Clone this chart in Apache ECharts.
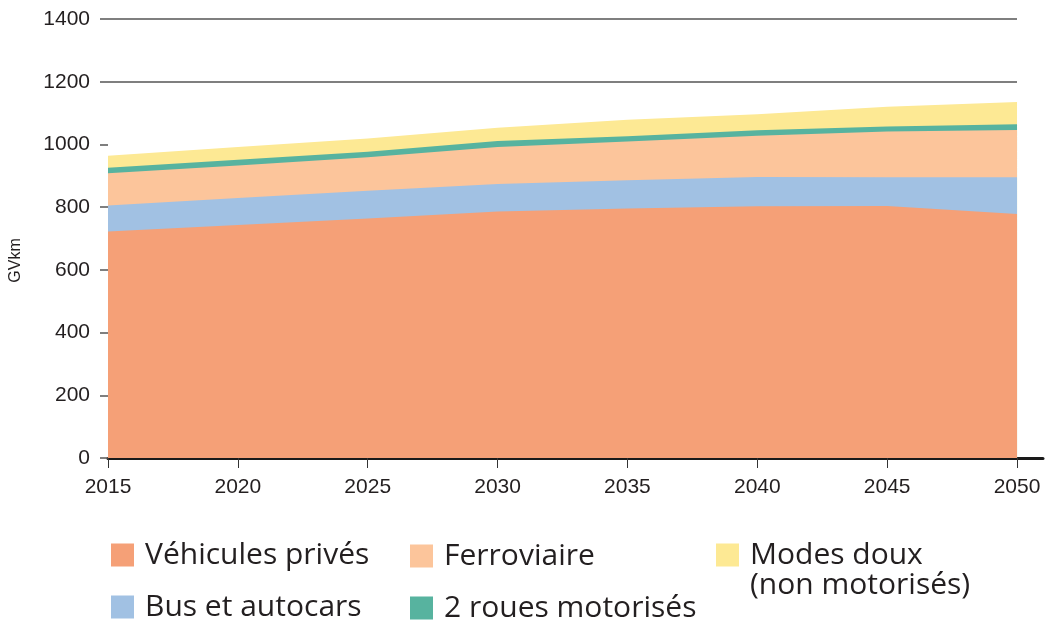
<!DOCTYPE html>
<html>
<head>
<meta charset="utf-8">
<script src="https://cdn.jsdelivr.net/npm/echarts@6/dist/echarts.min.js"></script>
<style>
  html, body { margin: 0; padding: 0; background: #fff; }
  #chart { width: 1048px; height: 625px; }
</style>
</head>
<body>
<div id="chart"></div>
<script>
// years on the x axis
const years = [2015, 2020, 2025, 2030, 2035, 2040, 2045, 2050];
const gridValues = [1200, 1400];

// GVkm per mode (bottom to top of the stack)
const vehiculesPrives = [722, 743, 764, 786, 796, 803, 804, 778];
const busAutocars = [83, 86, 88, 88, 90, 93, 91, 117];
const ferroviaire = [103, 104, 107, 118, 123, 132, 146, 151];
const deuxRoues = [18, 18, 18, 19, 17, 17, 16, 18];
const modesDoux = [38, 41, 42, 42, 53, 51, 63, 71];

const NAMES = {
  vp: "Véhicules privés",
  bus: "Bus et autocars",
  fer: "Ferroviaire",
  deux: "2 roues motorisés",
  doux: "Modes doux (non motorisés)",
};

// layers drawn from the top one down, each filled to zero,
// so every lower layer covers the one above it
const layers = [
  { name: NAMES.vp, values: vehiculesPrives, color: "#F5A077" },
  { name: NAMES.bus, values: busAutocars, color: "#A1C1E3" },
  { name: NAMES.fer, values: ferroviaire, color: "#FCC59B" },
  { name: NAMES.deux, values: deuxRoues, color: "#57B39F" },
  { name: NAMES.doux, values: modesDoux, color: "#FDE994" },
];

function cumulative(upto) {
  return years.map((y, i) => {
    let total = 0;
    for (let k = 0; k <= upto; k++) total += layers[k].values[i];
    return [y, total];
  });
}

const series = [];
for (let k = layers.length - 1; k >= 0; k--) {
  const l = layers[k];
  series.push({
    name: l.name,
    type: "line",
    symbol: "none",
    color: l.color,
    lineStyle: { width: 0 },
    areaStyle: { color: l.color, opacity: 1, origin: "start" },
    emphasis: { disabled: true },
    silent: true,
    data: cumulative(k),
  });
}
// the two upper grid lines stop at 2050
series[0].markLine = {
  silent: true,
  symbol: "none",
  label: { show: false },
  lineStyle: { color: "#555", width: 1.5, type: "solid" },
  data: gridValues.map((v) => [{ coord: [2015, v] }, { coord: [2050, v] }]),
};

const textColor = "#231F20";
const legendText = {
  fontFamily: "Open Sans",
  fontSize: 30,
  color: textColor,
};
// square swatch, widened by an invisible point so the text sits 11px away
const SWATCH = "path://M0,0L23,0L23,23L0,23Z M28.99,22.99L29,22.99L29,23Z";
const SWATCH_TALL = "path://M0,0L23,0L23,23L0,23Z M28.99,52.99L29,52.99L29,53Z";

function legendBlock(left, top, names, extra) {
  return Object.assign(
    {
      left: left,
      top: top,
      height: 120,
      padding: 0,
      orient: "vertical",
      icon: SWATCH,
      itemWidth: 29,
      itemHeight: 23,
      itemGap: 22,
      selectedMode: false,
      textStyle: legendText,
      data: names,
    },
    extra || {}
  );
}

const chart = echarts.init(document.getElementById("chart"), null, { renderer: "canvas" });

const option = {
  animation: false,
  grid: { left: 108, right: 5, top: 19, bottom: 167 },
  xAxis: {
    type: "value",
    min: 2015,
    max: 2051,
    axisLine: { show: true, lineStyle: { color: "#1a1a1a", width: 3 } },
    axisTick: {
      show: true,
      length: 10,
      customValues: years,
      lineStyle: { color: "#333", width: 1 },
    },
    axisLabel: {
      customValues: years,
      margin: 19,
      formatter: (v) => String(v),
      fontFamily: "Liberation Sans",
      fontSize: 21,
      color: textColor,
    },
    splitLine: { show: false },
  },
  yAxis: {
    type: "value",
    min: 0,
    max: 1400,
    interval: 200,
    name: "GVkm",
    nameLocation: "middle",
    nameRotate: 90,
    nameGap: 84,
    nameTextStyle: {
      fontFamily: "Liberation Sans",
      fontSize: 16,
      color: textColor,
      padding: [0, 44, 0, 0],
    },
    axisLine: { show: false },
    axisTick: { show: true, length: 8, lineStyle: { color: "#555", width: 1.5 } },
    axisLabel: {
      margin: 18,
      formatter: (v) => String(v),
      fontFamily: "Liberation Sans",
      fontSize: 21,
      color: textColor,
    },
    splitLine: { show: false },
  },
  legend: [
    legendBlock(111, 540, [NAMES.vp, NAMES.bus]),
    legendBlock(410, 541, [NAMES.fer, NAMES.deux]),
    legendBlock(716, 540, [NAMES.doux], {
      icon: SWATCH_TALL,
      itemHeight: 53,
      formatter: () => "Modes doux\n(non motorisés)",
      textStyle: Object.assign({}, legendText, { lineHeight: 30 }),
    }),
  ],
  series: series,
};

chart.setOption(option);
</script>
</body>
</html>
